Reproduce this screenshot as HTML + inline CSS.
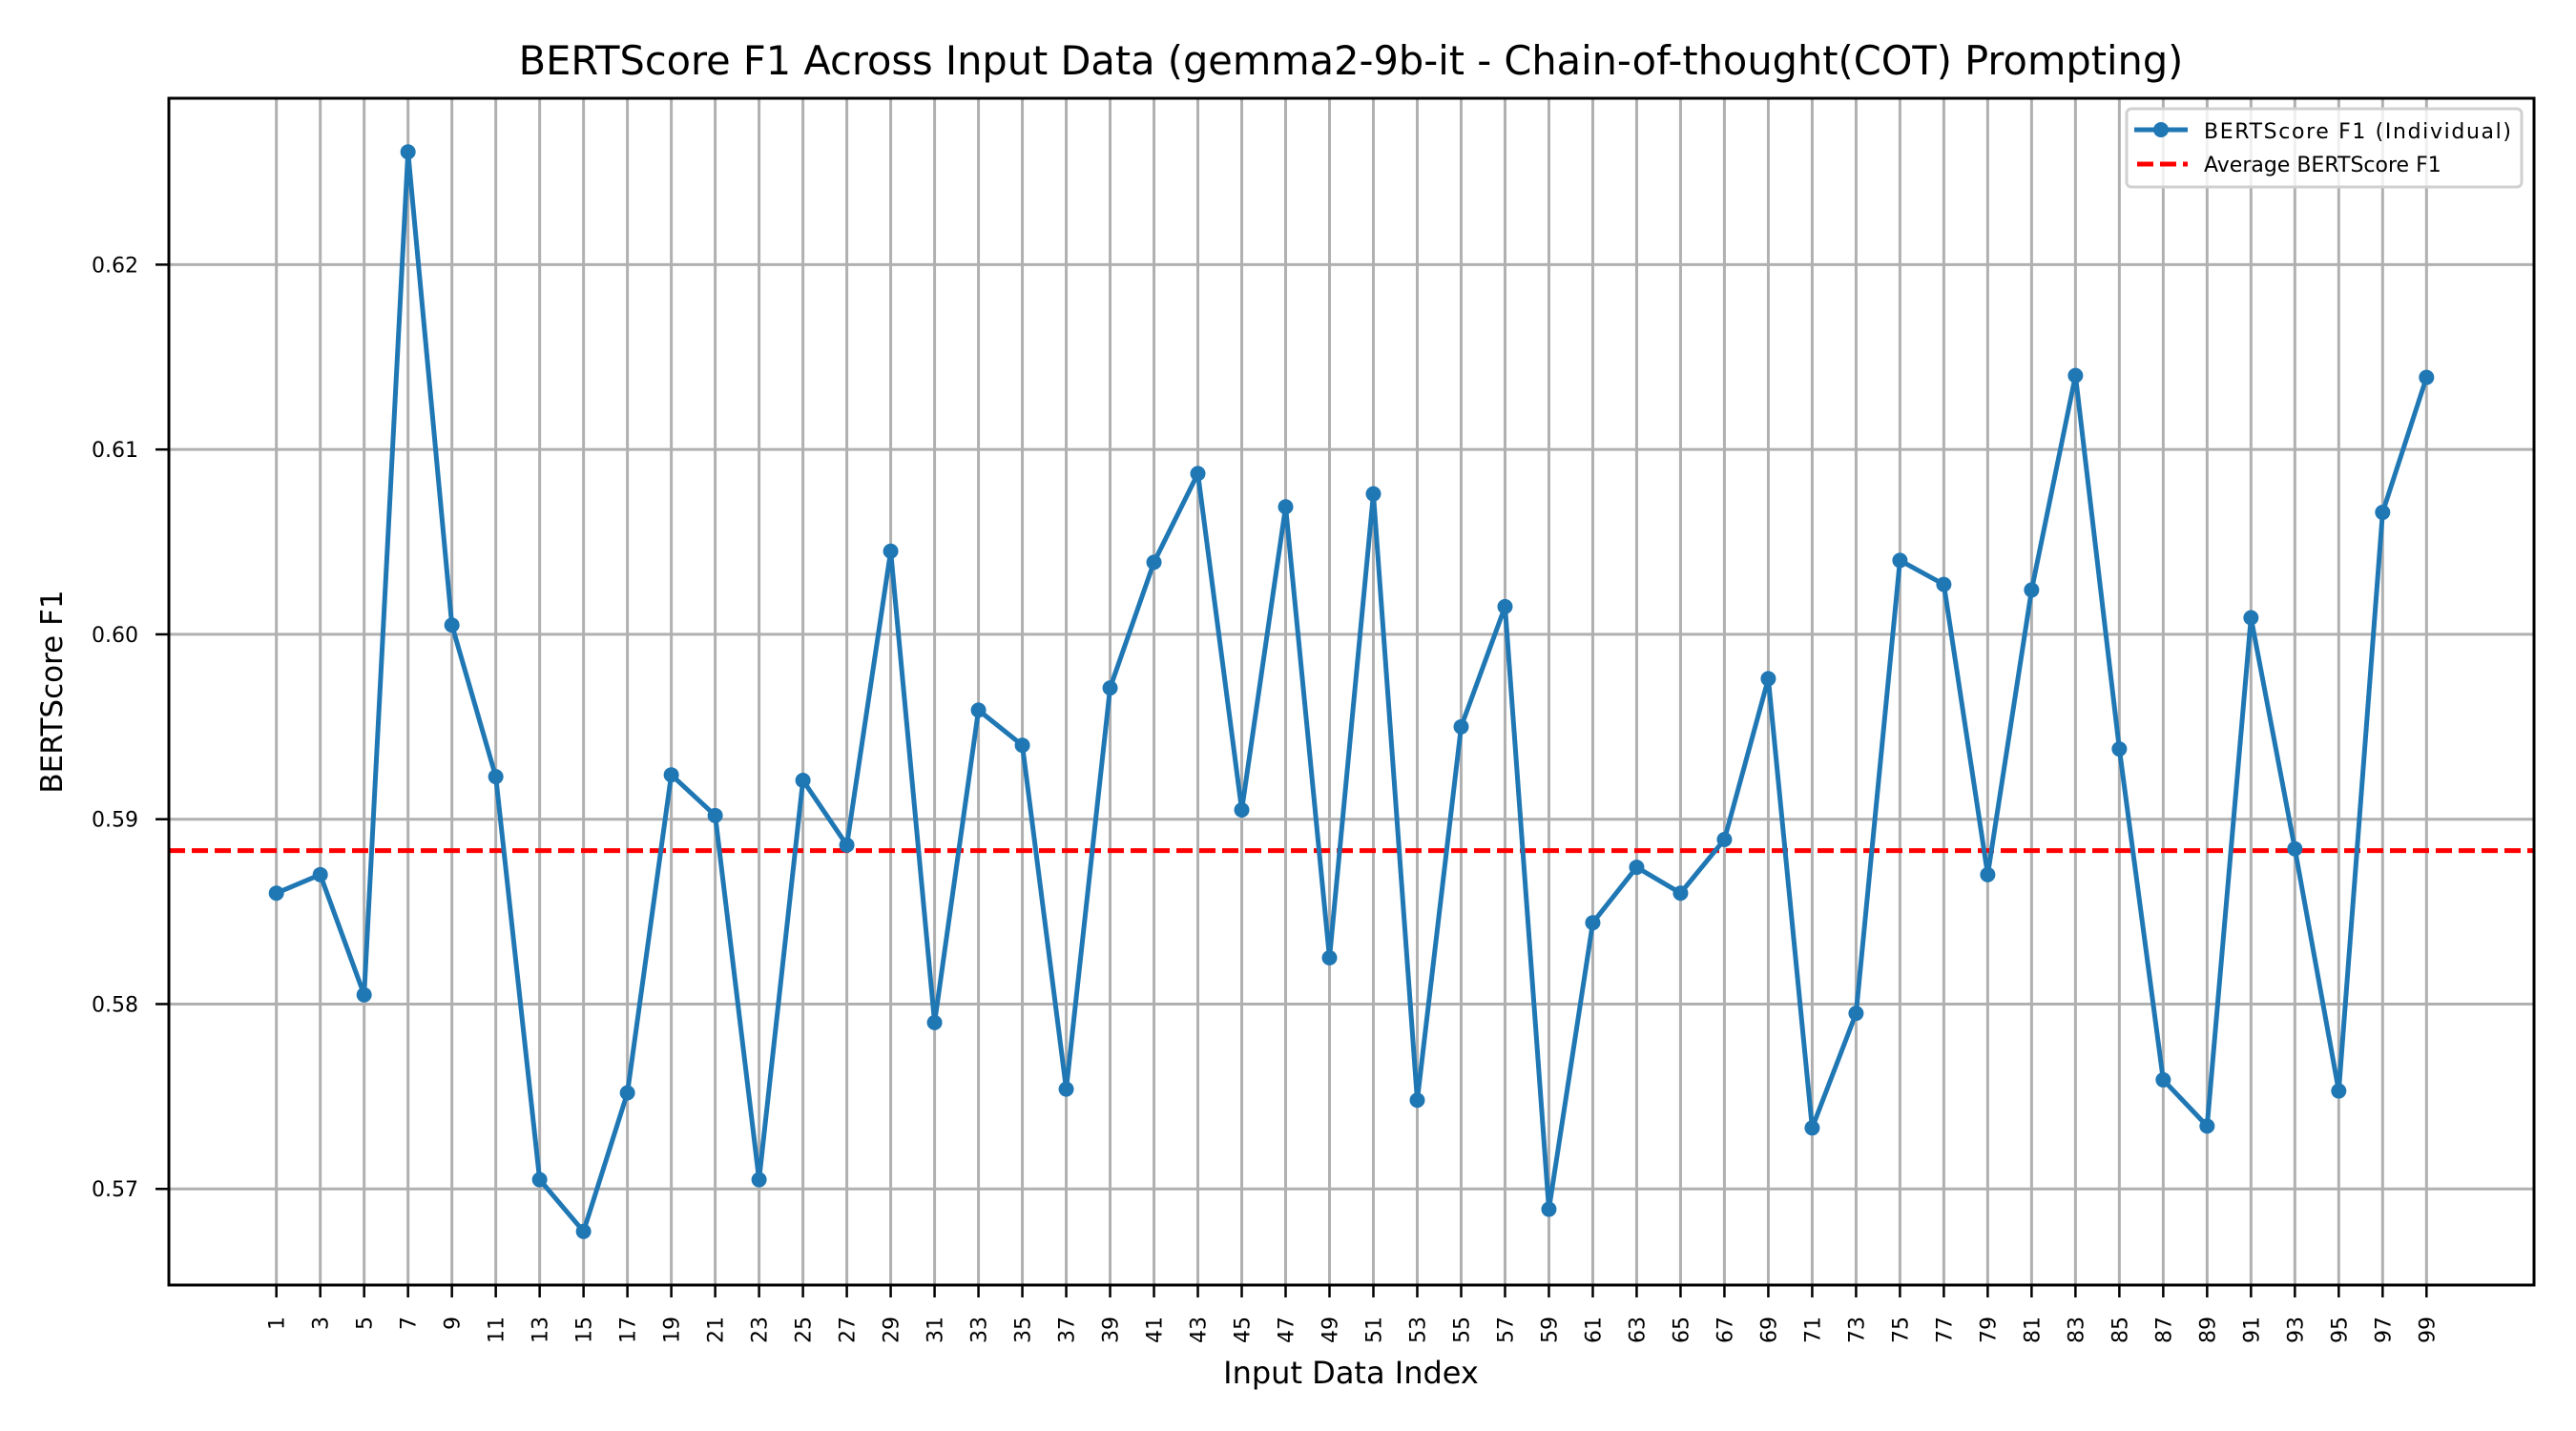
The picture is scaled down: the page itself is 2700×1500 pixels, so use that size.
<!DOCTYPE html>
<html><head><meta charset="utf-8"><style>
html,body{margin:0;padding:0;background:#fff;}
svg{display:block;font-family:"DejaVu Sans","Liberation Sans",sans-serif;}
</style></head><body>
<svg id="chart" width="2700" height="1500" viewBox="0 0 2700 1500" xmlns="http://www.w3.org/2000/svg">
<rect width="2700" height="1500" fill="#fff"/>
<g id="grid"></g>
<g id="ticks"></g>
<g id="series"></g>
<rect x="177" y="103" width="2479" height="1244" fill="none" stroke="#000" stroke-width="3"/>
<text x="1416" y="78" text-anchor="middle" font-size="41.5">BERTScore F1 Across Input Data (gemma2-9b-it - Chain-of-thought(COT) Prompting)</text>
<text x="1416" y="1450" text-anchor="middle" font-size="32">Input Data Index</text>
<text transform="translate(65,725) rotate(-90)" text-anchor="middle" font-size="31">BERTScore F1</text>
<g>
<rect x="2229" y="114" width="414" height="82" fill="#fff" fill-opacity="0.8" stroke="#d0d0d0" stroke-width="3" rx="5"/>
<line x1="2237" y1="136" x2="2293" y2="136" stroke="#1f77b4" stroke-width="5"/>
<circle cx="2265" cy="136" r="8" fill="#1f77b4"/>
<text x="2310" y="145" font-size="22" textLength="322">BERTScore F1 (Individual)</text>
<line x1="2240" y1="172" x2="2293" y2="172" stroke="#ff0000" stroke-width="5" stroke-dasharray="17,7"/>
<text x="2310" y="180" font-size="22">Average BERTScore F1</text>
</g>
</svg>
<script>
const xIndices = [1,3,5,7,9,11,13,15,17,19,21,23,25,27,29,31,33,35,37,39,41,43,45,47,49,51,53,55,57,59,61,63,65,67,69,71,73,75,77,79,81,83,85,87,89,91,93,95,97,99];
const f1Values = [0.5860,0.5870,0.5805,0.6261,0.6005,0.5923,0.5705,0.5677,0.5752,0.5924,0.5902,0.5705,0.5921,0.5886,0.6045,0.5790,0.5959,0.5940,0.5754,0.5971,0.6039,0.6087,0.5905,0.6069,0.5825,0.6076,0.5748,0.5950,0.6015,0.5689,0.5844,0.5874,0.5860,0.5889,0.5976,0.5733,0.5795,0.6040,0.6027,0.5870,0.6024,0.6140,0.5938,0.5759,0.5734,0.6009,0.5884,0.5753,0.6066,0.6139];
const averageF1 = 0.5883;
const yTicks = [0.57,0.58,0.59,0.60,0.61,0.62];
const yTickLabels = ["0.57","0.58","0.59","0.60","0.61","0.62"];

const L=177,R=2656,T=103,B=1347;
const xMin=-3.9,xMax=103.9,yMin=0.5648,yMax=0.6290;
const xs=v=>L+(v-xMin)/(xMax-xMin)*(R-L);
const ys=v=>B-(v-yMin)/(yMax-yMin)*(B-T);
const NS="http://www.w3.org/2000/svg";
function mk(tag,attrs,parent){const e=document.createElementNS(NS,tag);for(const k in attrs)e.setAttribute(k,attrs[k]);parent.appendChild(e);return e;}
const grid=document.getElementById('grid'),ticks=document.getElementById('ticks'),series=document.getElementById('series');
xIndices.forEach(v=>{
  const x=xs(v);
  const g=mk('line',{x1:x,x2:x,y1:T,y2:B,stroke:'#b0b0b0','stroke-width':3},grid);
  
  
  mk('line',{x1:x,x2:x,y1:B,y2:B+13,stroke:'#000','stroke-width':2.5},ticks);
  const t=mk('text',{transform:`translate(${x+8},${B+33}) rotate(-90)`,'text-anchor':'end','font-size':22},ticks);
  t.textContent=v;
  
  
});
yTicks.forEach((v,i)=>{
  const y=ys(v);
  const g=mk('line',{x1:L,x2:R,y1:y,y2:y,stroke:'#b0b0b0','stroke-width':3},grid);
  
  
  mk('line',{x1:L-14,x2:L,y1:y,y2:y,stroke:'#000','stroke-width':2.5},ticks);
  const t=mk('text',{x:L-32,y:y+8,'text-anchor':'end','font-size':22},ticks);
  t.textContent=yTickLabels[i];
  
  
});
const avg=mk('line',{x1:L,x2:R,y1:ys(averageF1),y2:ys(averageF1),stroke:'#ff0000','stroke-width':5,'stroke-dasharray':'17,7'},series);


const pts=xIndices.map((v,i)=>xs(v)+','+ys(f1Values[i])).join(' ');
const pl=mk('polyline',{points:pts,fill:'none',stroke:'#1f77b4','stroke-width':5,'stroke-linejoin':'round'},series);


xIndices.forEach((v,i)=>{
  const c=mk('circle',{cx:xs(v),cy:ys(f1Values[i]),r:8,fill:'#1f77b4'},series);
  
  
});
</script>
</body></html>
